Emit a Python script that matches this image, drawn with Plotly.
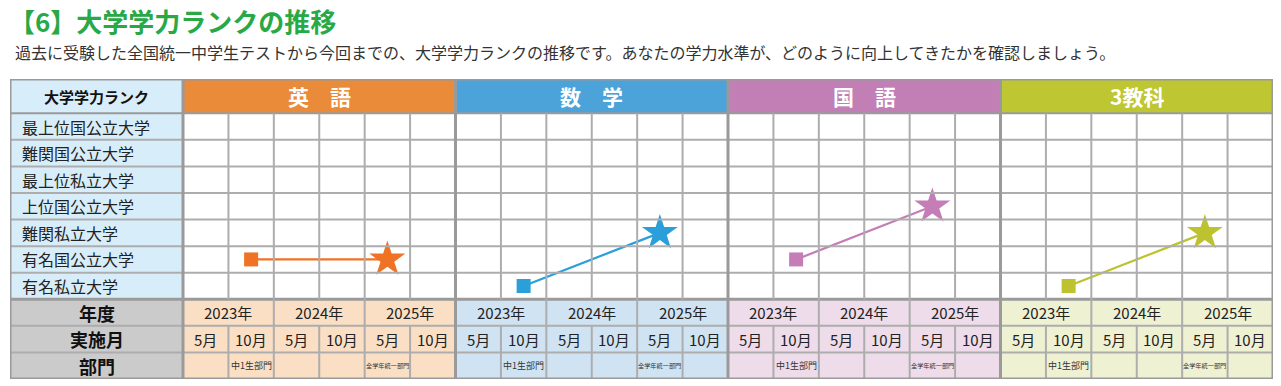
import plotly.graph_objects as go

# ---------------- data ----------------
ranks = ['最上位国公立大学', '難関国公立大学', '最上位私立大学', '上位国公立大学',
         '難関私立大学', '有名国公立大学', '有名私立大学']
subjects = ['英　語', '数　学', '国　語', '3教科']
years = ['2023年', '2024年', '2025年']
months = ['5月', '10月']
divisions = ['', '中1生部門', '', '', '全学年統一部門', '']
# exam index (0..5 = 2023/5, 2023/10, 2024/5, 2024/10, 2025/5, 2025/10)
start_exam = [1, 1, 1, 1]
end_exam = [4, 4, 4, 4]
start_rank = ['有名国公立大学', '有名私立大学', '有名国公立大学', '有名私立大学']
end_rank = ['有名国公立大学', '難関私立大学', '上位国公立大学', '難関私立大学']

# ---------------- styles ----------------
head_colors = ['#E98B38', '#4BA3DA', '#C27FB5', '#BEC631']
mark_colors = ['#F07225', '#2A9FD9', '#C47DB6', '#BDC22F']
foot_colors = ['#FBDFC5', '#D0E3F3', '#EEDCEA', '#EFF1D3']
label_bg = '#D7EEFA'
foot_label_bg = '#CBCBCB'
grid_c = '#ADADAD'
border_c = '#9A9A9A'
FONT = 'Noto Sans CJK JP'

W, H = 1281, 386
ML, MR, MT, MB = 10, 8, 79, 7
pw = W - ML - MR
ph = H - MT - MB
ncol = len(years) * len(months)       # 6 per subject
ntot = ncol * len(subjects)           # 24
colw = pw / (ntot + 173 / 45.42)
LBL = 173 / colw                      # label column width in x-units
HDR = 34.3 / (ph / (len(ranks) + 3 + 1.29))  # header height in y-units
nr = len(ranks)
ybot = nr + 3

def py(pix):  # pixel y -> paper y
    return 1 - (pix - MT) / ph

def px(pix):
    return (pix - ML) / pw

fig = go.Figure()
shapes = []
ann = []

def rect(x0, x1, y0, y1, color):
    shapes.append(dict(type='rect', xref='x', yref='y', x0=x0, x1=x1, y0=y0, y1=y1,
                       fillcolor=color, line=dict(width=0), layer='below'))

def line(x0, x1, y0, y1, color=grid_c, w=2):
    shapes.append(dict(type='line', xref='x', yref='y', x0=x0, x1=x1, y0=y0, y1=y1,
                       line=dict(color=color, width=w), layer='above'))

# backgrounds
rect(-LBL, 0, -HDR, nr, label_bg)
rect(-LBL, 0, nr, ybot, foot_label_bg)
for b, s in enumerate(subjects):
    rect(b * ncol, (b + 1) * ncol, -HDR, 0, head_colors[b])
    rect(b * ncol, (b + 1) * ncol, nr, ybot, foot_colors[b])

# horizontal lines
for i in range(1, nr):
    line(-LBL, ntot, i, i, grid_c, 2)
line(-LBL, ntot, 0, 0, border_c, 2)
line(-LBL, ntot, nr, nr, border_c, 3)
line(-LBL, ntot, nr + 1, nr + 1, grid_c, 2)
line(-LBL, ntot, nr + 2, nr + 2, grid_c, 2)

# vertical lines
for j in range(1, ntot):
    if j % ncol == 0:
        continue
    line(j, j, 0, nr, grid_c, 2)
    if j % 2 == 0:
        line(j, j, nr, ybot, grid_c, 2)
    else:
        line(j, j, nr + 1, ybot, grid_c, 2)
for b in range(1, len(subjects)):
    line(b * ncol, b * ncol, -HDR, ybot, border_c, 3)
line(0, 0, -HDR, ybot, border_c, 3)

# outer border
shapes.append(dict(type='rect', xref='x', yref='y', x0=-LBL, x1=ntot, y0=-HDR, y1=ybot,
                   line=dict(color=border_c, width=3), layer='above'))

# header texts
ann.append(dict(x=-LBL / 2, y=-HDR / 2, text='<b>大学学力ランク</b>', showarrow=False,
                font=dict(size=15, color='#111', family=FONT)))
for b, s in enumerate(subjects):
    ann.append(dict(x=b * ncol + ncol / 2, y=-HDR / 2, text='<b>' + s + '</b>', showarrow=False,
                    font=dict(size=21, color='white', family=FONT)))
for i, r in enumerate(ranks):
    ann.append(dict(x=-LBL + 0.22, y=i + 0.5, text=r, showarrow=False, xanchor='left',
                    font=dict(size=16, color='#222', family=FONT)))
for k, t in enumerate(['年度', '実施月', '部門']):
    ann.append(dict(x=-LBL / 2, y=nr + k + 0.5, text='<b>' + t + '</b>', showarrow=False,
                    font=dict(size=18, color='#111', family=FONT)))
for b in range(len(subjects)):
    for yi, yv in enumerate(years):
        ann.append(dict(x=b * ncol + yi * 2 + 1, y=nr + 0.5, text=yv, showarrow=False,
                        font=dict(size=15, color='#222', family=FONT)))
    for j in range(ncol):
        ann.append(dict(x=b * ncol + j + 0.5, y=nr + 1.5, text=months[j % 2], showarrow=False,
                        font=dict(size=15, color='#222', family=FONT)))
        d = divisions[j]
        if d:
            ann.append(dict(x=b * ncol + j + 0.5, y=nr + 2.5, text=d, showarrow=False,
                            font=dict(size=9 if len(d) <= 5 else 6.2, color='#333', family=FONT)))

# marks
for b, s in enumerate(subjects):
    x0 = b * ncol + start_exam[b] + 0.5
    x1 = b * ncol + end_exam[b] + 0.5
    y0 = ranks.index(start_rank[b]) + 0.5
    y1 = ranks.index(end_rank[b]) + 0.5
    fig.add_trace(go.Scatter(x=[x0, x1], y=[y0, y1], mode='lines',
                             line=dict(color=mark_colors[b], width=2.2),
                             hoverinfo='skip', showlegend=False))
    fig.add_trace(go.Scatter(x=[x0], y=[y0], mode='markers',
                             marker=dict(symbol='square', size=14, color=mark_colors[b]),
                             showlegend=False, name=s))
    fig.add_trace(go.Scatter(x=[x1], y=[y1], mode='markers',
                             marker=dict(symbol='star', size=27, color=mark_colors[b]),
                             showlegend=False, name=s))

# title & subtitle
ann.append(dict(xref='paper', yref='paper', x=px(7), y=py(21), xanchor='left', yanchor='middle',
                text='<b>【6】大学学力ランクの推移</b>', showarrow=False,
                font=dict(size=26, color='#28A946', family=FONT)))
ann.append(dict(xref='paper', yref='paper', x=px(13), y=py(52), xanchor='left', yanchor='middle',
                text='過去に受験した全国統一中学生テストから今回までの、大学学力ランクの推移です。あなたの学力水準が、どのように向上してきたかを確認しましょう。',
                showarrow=False, font=dict(size=16, color='#333', family=FONT)))

fig.update_layout(
    width=W, height=H, margin=dict(l=ML, r=MR, t=MT, b=MB),
    paper_bgcolor='white', plot_bgcolor='white',
    xaxis=dict(range=[-LBL, ntot], visible=False, fixedrange=True),
    yaxis=dict(range=[ybot, -HDR], visible=False, fixedrange=True),
    shapes=shapes, annotations=ann, showlegend=False,
)
fig.write_html('out.html', config={'displayModeBar': False},
               post_script="document.body.style.margin='0px';document.body.style.overflow='hidden';")
